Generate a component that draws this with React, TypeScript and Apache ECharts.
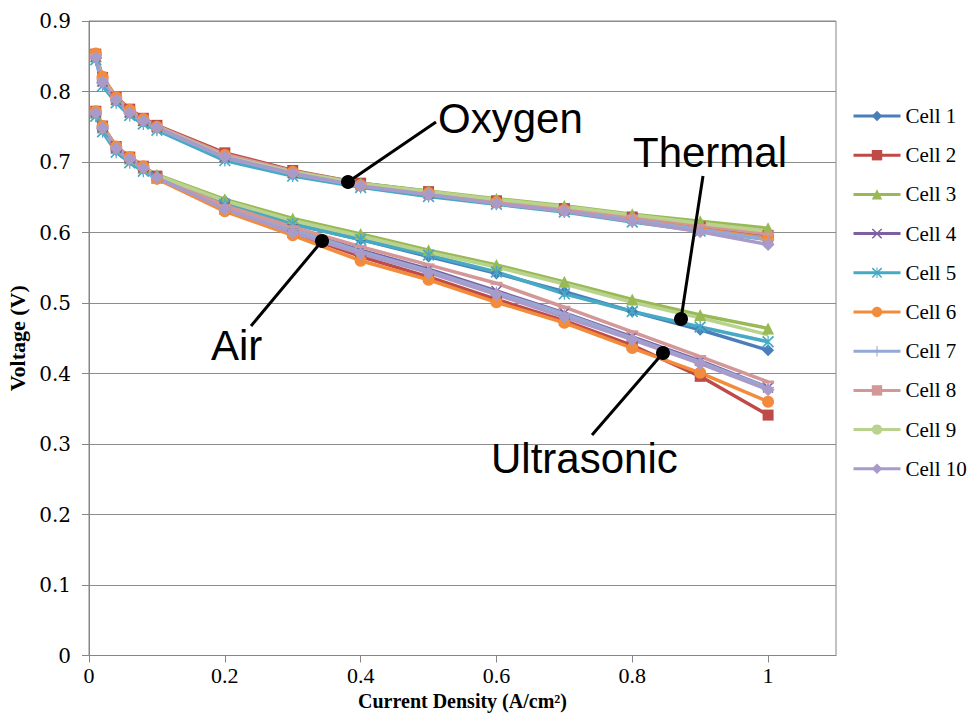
import React, { useEffect, useRef } from "react";
import * as echarts from "echarts";

const currentDensity = [0.01, 0.02, 0.04, 0.06, 0.08, 0.1, 0.2, 0.3, 0.4, 0.5, 0.6, 0.7, 0.8, 0.9, 1.0];
const xTicks = [0, 0.2, 0.4, 0.6, 0.8, 1];
const cellNames = ["Cell 1", "Cell 2", "Cell 3", "Cell 4", "Cell 5", "Cell 6", "Cell 7", "Cell 8", "Cell 9", "Cell 10"];

const oxygenCell1 = [0.848, 0.812, 0.787, 0.769, 0.757, 0.748, 0.705, 0.682, 0.665, 0.653, 0.642, 0.632, 0.619, 0.606, 0.595];
const oxygenCell2 = [0.853, 0.820, 0.792, 0.775, 0.762, 0.752, 0.713, 0.688, 0.670, 0.658, 0.645, 0.634, 0.622, 0.608, 0.596];
const oxygenCell3 = [0.850, 0.816, 0.790, 0.772, 0.760, 0.751, 0.709, 0.687, 0.670, 0.659, 0.648, 0.638, 0.626, 0.616, 0.606];
const oxygenCell4 = [0.849, 0.814, 0.788, 0.770, 0.758, 0.749, 0.707, 0.684, 0.667, 0.655, 0.643, 0.632, 0.620, 0.606, 0.593];
const oxygenCell5 = [0.845, 0.808, 0.784, 0.766, 0.754, 0.745, 0.702, 0.680, 0.664, 0.651, 0.640, 0.629, 0.615, 0.602, 0.590];
const oxygenCell6 = [0.854, 0.821, 0.792, 0.774, 0.761, 0.750, 0.710, 0.686, 0.667, 0.656, 0.643, 0.632, 0.619, 0.605, 0.592];
const oxygenCell7 = [0.847, 0.812, 0.787, 0.769, 0.757, 0.748, 0.706, 0.683, 0.666, 0.654, 0.642, 0.631, 0.618, 0.604, 0.590];
const oxygenCell8 = [0.852, 0.818, 0.791, 0.773, 0.761, 0.751, 0.711, 0.687, 0.669, 0.657, 0.645, 0.635, 0.623, 0.610, 0.598];
const oxygenCell9 = [0.850, 0.815, 0.789, 0.771, 0.759, 0.750, 0.708, 0.686, 0.669, 0.658, 0.647, 0.637, 0.625, 0.613, 0.602];
const oxygenCell10 = [0.848, 0.813, 0.788, 0.770, 0.758, 0.749, 0.707, 0.684, 0.666, 0.654, 0.641, 0.630, 0.616, 0.601, 0.583];

const airCell1 = [0.768, 0.746, 0.717, 0.702, 0.690, 0.680, 0.645, 0.612, 0.590, 0.566, 0.542, 0.516, 0.488, 0.462, 0.433];
const airCell2 = [0.772, 0.751, 0.722, 0.707, 0.694, 0.680, 0.633, 0.600, 0.566, 0.537, 0.505, 0.475, 0.440, 0.396, 0.341];
const airCell3 = [0.770, 0.749, 0.720, 0.705, 0.692, 0.682, 0.647, 0.620, 0.598, 0.575, 0.554, 0.530, 0.505, 0.483, 0.464];
const airCell4 = [0.770, 0.749, 0.720, 0.705, 0.692, 0.678, 0.636, 0.605, 0.575, 0.548, 0.517, 0.486, 0.452, 0.418, 0.380];
const airCell5 = [0.765, 0.743, 0.714, 0.699, 0.687, 0.677, 0.640, 0.612, 0.590, 0.568, 0.544, 0.513, 0.488, 0.466, 0.445];
const airCell6 = [0.772, 0.751, 0.722, 0.707, 0.694, 0.676, 0.630, 0.596, 0.560, 0.533, 0.501, 0.472, 0.436, 0.401, 0.360];
const airCell7 = [0.768, 0.747, 0.718, 0.703, 0.690, 0.677, 0.635, 0.604, 0.573, 0.546, 0.515, 0.485, 0.450, 0.416, 0.380];
const airCell8 = [0.771, 0.750, 0.721, 0.706, 0.693, 0.679, 0.638, 0.608, 0.580, 0.554, 0.528, 0.494, 0.459, 0.424, 0.388];
const airCell9 = [0.769, 0.748, 0.719, 0.704, 0.691, 0.681, 0.645, 0.617, 0.595, 0.572, 0.551, 0.527, 0.501, 0.479, 0.455];
const airCell10 = [0.769, 0.748, 0.719, 0.704, 0.691, 0.678, 0.633, 0.600, 0.570, 0.543, 0.512, 0.480, 0.448, 0.414, 0.377];

const oxygenData = [oxygenCell1, oxygenCell2, oxygenCell3, oxygenCell4, oxygenCell5, oxygenCell6, oxygenCell7, oxygenCell8, oxygenCell9, oxygenCell10];
const airData = [airCell1, airCell2, airCell3, airCell4, airCell5, airCell6, airCell7, airCell8, airCell9, airCell10];

const colors = ["#4A7EBB", "#BE4B48", "#98B954", "#7D60A0", "#46AAC5", "#F28C3C", "#95A9D6", "#D49797", "#B9D38E", "#A99BC9"];

const X_PATH = "path://M2,0 L10,8 L18,0 L20,2 L12,10 L20,18 L18,20 L10,12 L2,20 L0,18 L8,10 L0,2 Z";
const PLUS_PATH = "path://M9,0 H11 V9 H20 V11 H11 V20 H9 V11 H0 V9 H9 Z";
const STAR_PATH = "path://M2,0 L10,8 L18,0 L20,2 L12,10 L20,18 L18,20 L10,12 L2,20 L0,18 L8,10 L0,2 Z M9,0 H11 V20 H9 Z";

const symbols: any[] = ["diamond", "rect", "triangle", X_PATH, STAR_PATH, "circle", PLUS_PATH, "rect", "none", "diamond"];
const symbolSizes: any[] = [12, 11, 12, 11, 12, 12, 12, [12, 3], 0, 13];

export default function App() {
  const ref = useRef<HTMLDivElement>(null);
  useEffect(() => {
    if (!ref.current) return;
    const chart = echarts.init(ref.current, undefined, { renderer: "svg" });
    const series: any[] = [];
    cellNames.forEach((name, i) => {
      [oxygenData[i], airData[i]].forEach((vals) => {
        series.push({
          name,
          type: "line",
          data: currentDensity.map((x, k) => [x, vals[k]]),
          symbol: symbols[i],
          symbolSize: symbolSizes[i],
          showSymbol: symbols[i] !== "none",
          lineStyle: { width: 3.5, color: colors[i] },
          itemStyle: { color: colors[i] },
          emphasis: { disabled: true },
        });
      });
    });

    const lineStyle = { stroke: "#000", lineWidth: 3 };
    const textStyle = { fill: "#000", fontSize: 42, fontFamily: "Liberation Sans, Arial, sans-serif" };

    chart.setOption({
      animation: false,
      color: colors,
      grid: {
        left: 89,
        right: 131,
        top: 21,
        bottom: 58.5,
        show: true,
        borderColor: "#868686",
        borderWidth: 1,
        containLabel: false,
        outerBoundsMode: "none",
      },
      legend: {
        orient: "vertical",
        left: 847,
        top: 100,
        itemWidth: 47,
        itemHeight: 13,
        itemGap: 17.2,
        data: cellNames,
        lineStyle: { width: 3 },
        textStyle: { color: "#000", fontSize: 21, lineHeight: 22, fontFamily: "Liberation Serif, Times New Roman, serif" },
      },
      xAxis: {
        type: "value",
        min: 0,
        max: 1.1,
        interval: 0.2,
        name: "Current Density (A/cm²)",
        nameLocation: "middle",
        nameGap: 24,
        nameTextStyle: { color: "#000", fontSize: 20, fontWeight: "bold", fontFamily: "Liberation Serif, Times New Roman, serif" },
        axisLine: { show: true, lineStyle: { color: "#868686" } },
        axisTick: { show: true, length: 7, lineStyle: { color: "#868686" }, customValues: xTicks },
        axisLabel: {
          color: "#000",
          fontSize: 22,
          margin: 9,
          fontFamily: "Liberation Serif, Times New Roman, serif",
          customValues: xTicks,
          formatter: (v: number) => String(Math.round(v * 10) / 10),
        },
        splitLine: { show: false },
      },
      yAxis: {
        type: "value",
        min: 0,
        max: 0.9,
        interval: 0.1,
        name: "Voltage (V)",
        nameLocation: "middle",
        nameGap: 58,
        nameTextStyle: { color: "#000", fontSize: 22, fontWeight: "bold", fontFamily: "Liberation Serif, Times New Roman, serif" },
        axisLine: { show: true, lineStyle: { color: "#868686" } },
        axisTick: { show: true, length: 7, lineStyle: { color: "#868686" } },
        axisLabel: {
          color: "#000",
          fontSize: 20,
          margin: 18,
          fontFamily: "DejaVu Serif, serif",
          formatter: (v: number) => String(Math.round(v * 10) / 10),
        },
        splitLine: { show: true, lineStyle: { color: "#8C8C8C", width: 1 } },
      },
      series,
      graphic: [
        { type: "line", shape: { x1: 348, y1: 182, x2: 436, y2: 122 }, style: lineStyle, z: 100 },
        { type: "circle", shape: { cx: 348, cy: 182, r: 7 }, style: { fill: "#000" }, z: 101 },
        { type: "text", x: 438, y: 118, style: { ...textStyle, text: "Oxygen", verticalAlign: "middle" }, z: 101 },

        { type: "line", shape: { x1: 681, y1: 319, x2: 703, y2: 176 }, style: lineStyle, z: 100 },
        { type: "circle", shape: { cx: 681, cy: 319, r: 7 }, style: { fill: "#000" }, z: 101 },
        { type: "text", x: 633, y: 152, style: { ...textStyle, text: "Thermal", verticalAlign: "middle" }, z: 101 },

        { type: "line", shape: { x1: 322, y1: 241, x2: 251, y2: 326 }, style: lineStyle, z: 100 },
        { type: "circle", shape: { cx: 322, cy: 241, r: 7 }, style: { fill: "#000" }, z: 101 },
        { type: "text", x: 211, y: 345, style: { ...textStyle, text: "Air", verticalAlign: "middle" }, z: 101 },

        { type: "line", shape: { x1: 663, y1: 353, x2: 592, y2: 435 }, style: lineStyle, z: 100 },
        { type: "circle", shape: { cx: 663, cy: 353, r: 7 }, style: { fill: "#000" }, z: 101 },
        { type: "text", x: 491, y: 458, style: { ...textStyle, text: "Ultrasonic", verticalAlign: "middle" }, z: 101 },
      ],
    });
    return () => chart.dispose();
  }, []);
  return <div ref={ref} style={{ position: "fixed", left: 0, top: 0, width: 967, height: 714, background: "#fff" }} />;
}
